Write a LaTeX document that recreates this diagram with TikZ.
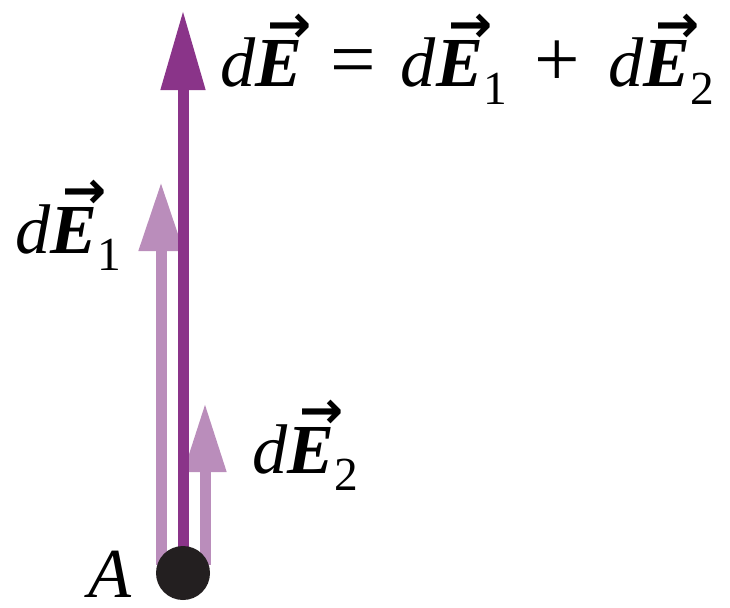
\documentclass[tikz,border=0pt]{standalone}
\usepackage{fontspec}
\setmainfont{Liberation Serif}
\newfontfamily\arrowfont{DejaVu Sans}
\definecolor{Epurple}{HTML}{8A3489}
\definecolor{Elight}{HTML}{BA8DBB}
\definecolor{Edot}{HTML}{231F20}
\usetikzlibrary{arrows.meta, positioning}

\newcommand{\vE}{\makebox[0pt][l]{\hspace{0.17em}\raisebox{0.64em}{\fontsize{30}{30}\arrowfont\bfseries →}}\textbf{\textit{E}}}
\newcommand{\Esub}[1]{\raisebox{-0.25em}{\fontsize{27}{28}\selectfont #1}}
\newcommand{\Eop}[1]{{\fontsize{46}{46}\selectfont #1}}

\begin{document}
\begin{tikzpicture}[
      vec/.style={line width=0.22cm},
      lbl/.style={font=\fontsize{40}{46}\selectfont, inner sep=0pt, anchor=base west},
   ]
   \useasboundingbox (0,0) rectangle (14.6,12.14);

   % point A
   \coordinate (A0) at (3.66,0.68);

   % dE1 and dE2 (light)
   \coordinate (e1base) at (3.22,0.84);
   \coordinate (e1tip) at (3.22,8.50);
   \coordinate (e2base) at (4.10,0.84);
   \coordinate (e2tip) at (4.10,4.08);
   \draw[vec, Elight, -{Triangle[length=1.38cm, width=0.84cm]}] (e1base) -- (e1tip);
   \draw[vec, Elight, -{Triangle[length=1.38cm, width=0.80cm]}] (e2base) -- (e2tip);

   % dE (sum)
   \coordinate (etip) at (3.66,11.94);
   \draw[vec, Epurple, -{Triangle[length=1.6cm, width=0.84cm]}] (A0) -- (etip);

   % dot A
   \node[circle, fill=Edot, minimum size=1.08cm, inner sep=0pt] (ptA) at (A0) {};
   \node[lbl, text depth=0pt] (lA) at (1.76,0.2) {\textit{A}};

   % labels
   \node[lbl] (lE) at (4.40,10.40)
      {\textit{d}\vE\hspace{0.4em}\Eop{=}\hspace{0.35em}\textit{d}\vE\Esub{1}\hspace{0.4em}\Eop{+}\hspace{0.4em}\textit{d}\vE\Esub{2}};
   \node[lbl] (lE1) at (0.30,7.08) {\textit{d}\vE\Esub{1}};
   \node[lbl] (lE2) at (5.04,2.68) {\textit{d}\vE\Esub{2}};
\end{tikzpicture}
\end{document}
